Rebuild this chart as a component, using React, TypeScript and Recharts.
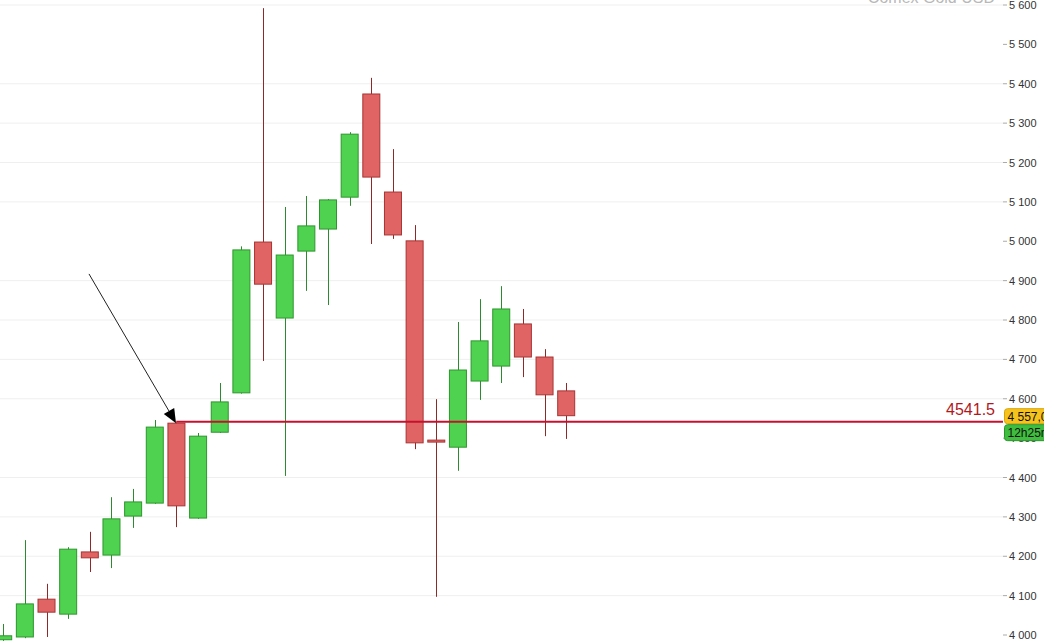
import React from 'react'
import { ComposedChart, Bar, XAxis, YAxis, CartesianGrid, ReferenceLine } from 'recharts'

// monthly candles, Comex Gold USD
const opens = [3988, 3995, 4091, 4053, 4211, 4203, 4302, 4335, 4538, 4297, 4515, 4615, 4998, 4805, 4975, 5031, 5112, 5374, 5125, 5001, 4495, 4477, 4645, 4683, 4790, 4706, 4620]
const closes = [3998, 4079, 4058, 4218, 4196, 4295, 4338, 4528, 4328, 4505, 4592, 4978, 4891, 4965, 5039, 5105, 5272, 5163, 5016, 4488, 4490, 4673, 4747, 4828, 4706, 4610, 4557]
const highs = [4028, 4241, 4130, 4223, 4262, 4350, 4371, 4546, 4540, 4513, 4640, 4987, 5592, 5087, 5115, 5107, 5277, 5415, 5234, 5041, 4599, 4795, 4853, 4886, 4828, 4726, 4640]
const lows = [3985, 3992, 3995, 4041, 4160, 4170, 4272, 4333, 4274, 4295, 4513, 4613, 4696, 4404, 4874, 4838, 5090, 4993, 5006, 4472, 4097, 4417, 4597, 4640, 4655, 4505, 4498]

const yTicks = [4000, 4100, 4200, 4300, 4400, 4500, 4600, 4700, 4800, 4900, 5000, 5100, 5200, 5300, 5400, 5500, 5600]
const gridValues = [4100, 4200, 4300, 4400, 4600, 4700, 4800, 4900, 5100, 5200, 5300, 5400, 5600]
const yDomain = [3979.7, 5612.7]

const levelValue = 4541.5
const levelFrom = 8
const arrowFrom = { x: 3.97, y: 4917 }
const arrowTo = { x: 7.99, y: 4538 }
const lastClose = closes[closes.length - 1]
const timerText = '12h25m'

const W = 1044
const H = 643

const data = opens.map((o, i) => ({
    i,
    open: o,
    close: closes[i],
    high: highs[i],
    low: lows[i],
    range: [lows[i], highs[i]],
}))

const font = 'Arial, "Liberation Sans", sans-serif'

const fmt = (v: number) => {
    const s = String(v)
    return s.length > 3 ? s.slice(0, s.length - 3) + ' ' + s.slice(-3) : s
}

function Candle(props: any) {
    const { x, y, width, height, payload } = props
    if (!payload) return null
    const { open, close, high, low } = payload
    const up = close >= open
    const top = Math.min(y, y + height)
    const h = Math.abs(height)
    const ratio = high === low ? 0 : h / (high - low)
    const bodyTop = top + (high - Math.max(open, close)) * ratio
    const bodyH = Math.max(Math.abs(open - close) * ratio, 2)
    const cx = Math.round(x + width / 2) + 0.5
    const fill = up ? '#4fd24f' : '#e06464'
    const stroke = up ? '#2e962e' : '#a83434'
    const wick = up ? '#2e8a2e' : '#8c2a2a'
    return (
        <g>
            <line x1={cx} x2={cx} y1={top} y2={top + h} stroke={wick} strokeWidth={1} />
            <rect x={x + 0.5} y={bodyTop} width={width - 1} height={bodyH} fill={fill} stroke={stroke} strokeWidth={1} />
        </g>
    )
}

function Arrow(props: any) {
    const { x1, y1, x2, y2 } = props
    const dx = x2 - x1
    const dy = y2 - y1
    const len = Math.sqrt(dx * dx + dy * dy)
    const ux = dx / len
    const uy = dy / len
    const bx = x2 - ux * 14
    const by = y2 - uy * 14
    const px = -uy * 6
    const py = ux * 6
    return (
        <g>
            <line x1={x1} y1={y1} x2={bx} y2={by} stroke="#222" strokeWidth={1} />
            <polygon points={`${x2},${y2} ${bx + px},${by + py} ${bx - px},${by - py}`} fill="#000" />
        </g>
    )
}

function LevelLabel(props: any) {
    const { viewBox } = props
    if (!viewBox) return null
    const right = viewBox.x + viewBox.width - 8
    return (
        <text x={right} y={viewBox.y - 7} textAnchor="end" fill="#b0181e" fontSize={16} fontFamily={font}>
            {String(levelValue)}
        </text>
    )
}

function Tags({ x, y }: { x: number; y: number }) {
    return (
        <g fontFamily={font} fontSize={12}>
            <rect x={x} y={y - 7} width={50} height={15} rx={3} fill="#f6c31c" stroke="#d8a20c" />
            <text x={x + 3} y={y + 5} fill="#111">{fmt(lastClose)},0</text>
            <rect x={x} y={y + 9} width={50} height={16} rx={3} fill="#3fbd3f" stroke="#2a952a" />
            <text x={x + 3} y={y + 21.5} fill="#111">{timerText}</text>
        </g>
    )
}

// tick text; the tick just under the last close also carries the price tags,
// so they cover it like in the original terminal
function PriceTick(props: any) {
    const { x, y, payload } = props
    const v = payload.value
    const below = yTicks.filter((t) => t <= lastClose)
    const carrier = below[below.length - 1]
    const pxPerUnit = H / (yDomain[1] - yDomain[0])
    return (
        <g>
            <text x={x} y={y} dy={4} fontSize={11} fill="#333" fontFamily={font} textAnchor="start">
                {fmt(v)}
            </text>
            {v === carrier && <Tags x={x - 4.5} y={y - (lastClose - v) * pxPerUnit} />}
        </g>
    )
}

export default function App() {
    return (
        <div style={{ position: 'absolute', left: 0, top: 0, width: W, height: H, background: '#fff', overflow: 'hidden' }}>
            <div
                style={{
                    position: 'absolute',
                    top: -12,
                    right: 49,
                    fontFamily: font,
                    fontSize: 16,
                    color: '#b8b8b8',
                    lineHeight: '20px',
                }}
            >
                Comex Gold USD
            </div>
            <ComposedChart width={W} height={H} data={data} margin={{ top: 0, right: 0, left: 0, bottom: 0 }}>
                <CartesianGrid horizontal vertical={false} horizontalValues={gridValues} stroke="#efefef" />
                <XAxis dataKey="i" type="number" domain={[-0.14, 46.18]} hide height={0} />
                <YAxis
                    orientation="right"
                    domain={yDomain}
                    ticks={yTicks}
                    width={41}
                    axisLine={false}
                    tickSize={4}
                    tickMargin={2}
                    tickLine={{ stroke: '#aaa' }}
                    tick={<PriceTick />}
                    interval={0}
                    allowDataOverflow
                />
                <Bar dataKey="range" barSize={18} shape={Candle} isAnimationActive={false} />
                <ReferenceLine
                    segment={[{ x: levelFrom, y: levelValue }, { x: 46.18, y: levelValue }]}
                    stroke="#c8102e"
                    strokeWidth={2}
                    label={<LevelLabel />}
                />
                <ReferenceLine segment={[arrowFrom, arrowTo]} shape={Arrow} />
            </ComposedChart>
        </div>
    )
}
